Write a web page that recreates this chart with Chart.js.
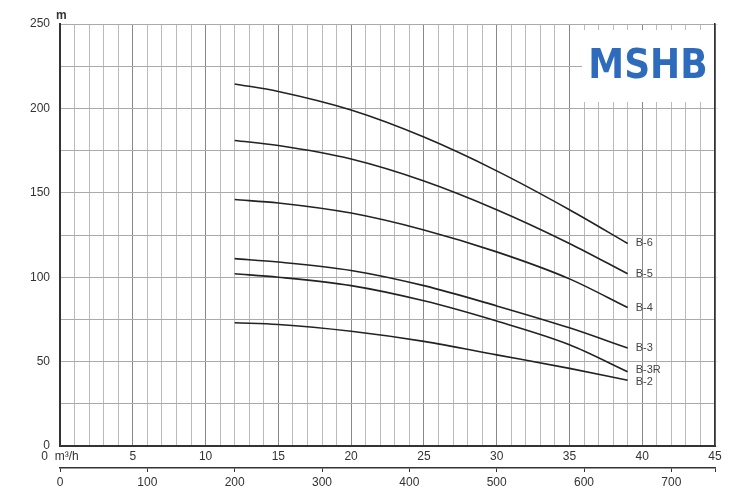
<!DOCTYPE html>
<html>
<head>
<meta charset="utf-8">
<script src="https://cdn.jsdelivr.net/npm/chart.js@4/dist/chart.umd.min.js"></script>
<style>body{margin:0;background:#fff}#wrap{width:750px;height:500px}</style>
</head>
<body>
<div id="wrap"><canvas id="myChart"></canvas></div>
<script>
// flow in m3/h
var flow = [12, 15, 20, 25, 30, 35, 39];
var seriesNames = ['B-6', 'B-5', 'B-4', 'B-3', 'B-3R', 'B-2'];
var b6  = [214.5, 210, 199, 183, 163, 140, 120];
var b5  = [181, 178, 170, 157, 140, 120, 102];
var b4  = [146, 144, 138, 128, 115, 99, 82];
var b3  = [111, 109, 104, 95, 83, 70, 58];
var b3r = [102, 100, 95, 86, 74, 60, 44];
var b2  = [73, 72, 68, 62, 54, 46, 39];
var allSeries = [b6, b5, b4, b3, b3r, b2];

var datasets = [];
for (var i = 0; i < allSeries.length; i++) {
    var pts = [];
    for (var j = 0; j < flow.length; j++) pts.push({x: flow[j], y: allSeries[i][j]});
    datasets.push({label: seriesNames[i], data: pts, borderColor: '#222', borderWidth: 1.6,
        pointRadius: 0, cubicInterpolationMode: 'monotone', fill: false});
}

// end labels + MSHB logo + "m" unit
var extras = {
    id: 'extras',
    afterDatasetsDraw: function(chart) {
        var c = chart.ctx, xs = chart.scales.x, ys = chart.scales.y;
        c.save();
        c.font = '11px "Liberation Sans", Arial';
        c.fillStyle = '#444';
        c.textBaseline = 'middle';
        var offs = [0, 0, 0, 0, -2, 2];
        for (var i = 0; i < allSeries.length; i++) {
            var v = allSeries[i][allSeries[i].length - 1];
            c.fillText(seriesNames[i], xs.getPixelForValue(flow[flow.length - 1]) + 8, ys.getPixelForValue(v) + offs[i]);
        }
        c.fillStyle = '#fff';
        c.fillRect(582, 30, 132, 72);
        c.fillStyle = '#2e6bbd';
        c.font = 'bold 40px "DejaVu Sans Condensed", "Liberation Sans Narrow", sans-serif';
        c.textAlign = 'center';
        c.fillText('MSHB', 648, 68);
        c.textAlign = 'left';
        c.fillStyle = '#333';
        c.font = 'bold 12px "Liberation Sans", Arial';
        c.fillText('m', 56, 16);
        c.restore();
    }
};

var ctx = document.getElementById('myChart');
var myChart = new Chart(ctx, {
    type: 'line',
    data: {datasets: datasets},
    options: {
        responsive: true, maintainAspectRatio: false, animation: false,
        layout: {padding: {top: 24, right: 32, left: 0, bottom: 0}},
        plugins: {legend: {display: false}, tooltip: {enabled: false}},
        scales: {
            x: {
                type: 'linear', min: 0, max: 45, position: 'bottom',
                border: {color: '#333', width: 2},
                grid: {color: function(c) { return c.tick.value % 5 == 0 ? '#888' : '#bbb'; }, lineWidth: 1, tickLength: 0},
                ticks: {stepSize: 1, autoSkip: false, maxRotation: 0, color: '#333', font: {size: 12},
                    callback: function(v) { return v == 0 ? '0  m³/h' : (v % 5 == 0 ? v : ''); }},
                afterFit: function(s) { s.height = 22; }
            },
            x2: {
                type: 'linear', min: 0, max: 750, position: 'bottom',
                border: {color: '#333', width: 1.5},
                grid: {drawOnChartArea: false, tickLength: 4, color: '#333'},
                ticks: {stepSize: 100, maxRotation: 0, color: '#333', font: {size: 12},
                    callback: function(v) { return v % 100 == 0 ? v : ''; }},
                afterFit: function(s) { s.height = 32; }
            },
            y: {
                min: 0, max: 250,
                border: {color: '#333', width: 2},
                grid: {color: '#aaa', tickLength: 0},
                ticks: {stepSize: 25, color: '#333', font: {size: 12}, padding: 10,
                    callback: function(v) { return v % 50 == 0 ? v : ''; }},
                afterFit: function(s) { s.width = 60; }
            },
            y2: {
                min: 0, max: 250, position: 'right',
                border: {color: '#333', width: 1.5},
                grid: {drawOnChartArea: false, tickLength: 3},
                ticks: {display: false, stepSize: 50}
            }
        }
    },
    plugins: [extras]
});
</script>
</body>
</html>
